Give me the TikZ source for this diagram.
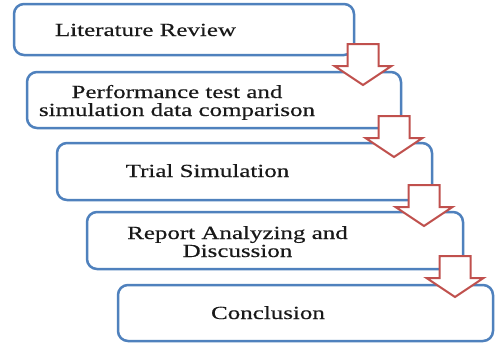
\documentclass[tikz,border=0pt]{standalone}
\usepackage{fontspec}
\setmainfont{Liberation Serif}[FakeStretch=1.35,FakeBold=0.4]
\usetikzlibrary{calc}
\definecolor{boxblue}{HTML}{4F81BD}
\definecolor{arrred}{HTML}{C0504D}
\begin{document}
\begin{tikzpicture}[x=1pt,y=-1pt,
  stepbox/.style={draw=boxblue, line width=2.5pt, rounded corners=10pt, fill=white,
    outer sep=0pt, inner sep=0pt, anchor=north west},
  steptext/.style={font=\fontsize{18.5}{18}\selectfont, text=black!90, align=center, inner sep=0pt},
  arrowstyle/.style={draw=arrred, line width=2pt, fill=white, line join=miter},
  downarrow/.pic={\draw[arrowstyle] (-15.5,0) -- (15.5,0) -- (15.5,22) -- (28.5,22) -- (0,41)
      -- (-28.5,22) -- (-15.5,22) -- cycle;}]
\useasboundingbox[fill=white] (0,0) rectangle (501,349);
% boxes
\node[stepbox, minimum width=340pt, minimum height=51pt] (b1) at (14,4) {};
\node[stepbox, minimum width=374pt, minimum height=56pt] (b2) at (27,72) {};
\node[stepbox, minimum width=375pt, minimum height=57pt] (b3) at (57,143) {};
\node[stepbox, minimum width=376pt, minimum height=57pt] (b4) at (87,212) {};
\node[stepbox, minimum width=375pt, minimum height=56pt] (b5) at (118,285) {};
% texts
\node[steptext, anchor=base] (t1) at (145.5,36) {Literature Review};
\node[steptext, anchor=base] (t2) at (177,116) {Performance test and\\simulation data comparison};
\node[steptext, anchor=base] (t3) at (207.5,177) {Trial Simulation};
\node[steptext, anchor=base] (t4) at (237.5,257) {Report Analyzing and\\Discussion};
\node[steptext, anchor=base] (t5) at (268,319) {Conclusion};
% block arrows
\coordinate (a1) at ($(b1.south east)+(9,-11)$);
\coordinate (a2) at ($(b2.south east)+(-7,-12)$);
\coordinate (a3) at ($(b3.south east)+(-8,-15)$);
\coordinate (a4) at ($(b4.south east)+(-8,-13)$);
\pic at (a1) {downarrow};
\pic at (a2) {downarrow};
\pic at (a3) {downarrow};
\pic at (a4) {downarrow};
\end{tikzpicture}
\end{document}
